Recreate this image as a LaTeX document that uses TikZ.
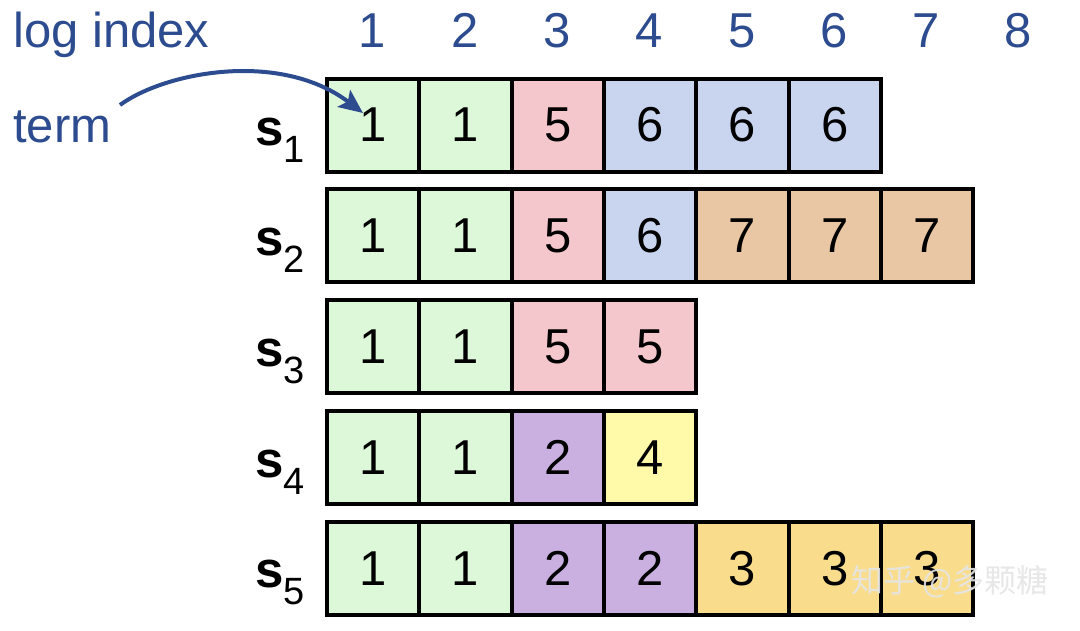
\documentclass[tikz,border=0pt]{standalone}
\usepackage{fontspec}
\setmainfont{Liberation Sans}
\newfontfamily\cjk{Noto Sans CJK SC}
\usetikzlibrary{arrows.meta}
\definecolor{hdrblue}{RGB}{45,76,143}
\definecolor{cgreen}{RGB}{221,248,216}
\definecolor{cpink}{RGB}{244,199,204}
\definecolor{cblue}{RGB}{201,212,239}
\definecolor{ctan}{RGB}{234,199,164}
\definecolor{cpurple}{RGB}{202,176,224}
\definecolor{cyellow}{RGB}{255,250,170}
\definecolor{cgold}{RGB}{249,221,140}
\begin{document}
\begin{tikzpicture}[x=1pt,y=-1pt,
  cell/.style={draw=black, line width=4pt, minimum width=92.3pt, minimum height=93pt, inner sep=0pt, font=\fontsize{49}{49}\selectfont},
  hdr/.style={text=hdrblue, font=\fontsize{49}{49}\selectfont, inner sep=0pt, anchor=base},
  slabel/.style={anchor=base west, inner sep=0pt, font=\fontsize{51}{51}\selectfont\bfseries},
  arr/.style={draw=hdrblue, line width=4pt, -{Stealth[length=24pt,width=21pt,inset=5pt]}},
  wmark/.style={font=\cjk\fontsize{32}{32}\selectfont, inner sep=0pt}
]
\useasboundingbox (0,0) rectangle (1080,630);
\fill[white] (0,0) rectangle (1080,630);

% header
\node[hdr, anchor=base west] (logidx) at (13,47) {log index};
\node[hdr, anchor=base west] (term) at (13,142) {term};
\foreach \i in {1,...,8}
  \node[hdr] (h\i) at ({372.5+92.3*(\i-1)},47) {\i};

% rows
\foreach \v/\c [count=\i] in {1/cgreen,1/cgreen,5/cpink,6/cblue,6/cblue,6/cblue}
  \node[cell,fill=\c] (r1c\i) at ({373.15+92.3*(\i-1)},125) {\v};
\foreach \v/\c [count=\i] in {1/cgreen,1/cgreen,5/cpink,6/cblue,7/ctan,7/ctan,7/ctan}
  \node[cell,fill=\c] (r2c\i) at ({373.15+92.3*(\i-1)},235.8) {\v};
\foreach \v/\c [count=\i] in {1/cgreen,1/cgreen,5/cpink,5/cpink}
  \node[cell,fill=\c] (r3c\i) at ({373.15+92.3*(\i-1)},346.6) {\v};
\foreach \v/\c [count=\i] in {1/cgreen,1/cgreen,2/cpurple,4/cyellow}
  \node[cell,fill=\c] (r4c\i) at ({373.15+92.3*(\i-1)},457.4) {\v};
\foreach \v/\c [count=\i] in {1/cgreen,1/cgreen,2/cpurple,2/cpurple,3/cgold,3/cgold,3/cgold}
  \node[cell,fill=\c] (r5c\i) at ({373.15+92.3*(\i-1)},568.2) {\v};

% server labels
\foreach \r/\y in {1/145,2/255.8,3/366.6,4/477.4,5/587}
  \node[slabel] (s\r) at (255,\y) {s\raisebox{-17pt}{\fontsize{38}{38}\selectfont\mdseries \r}};

% arrow
\coordinate (astart) at (120,105);
\coordinate (atip) at (363,113);
\draw[arr] (astart) .. controls (165,72) and (280,50) .. (atip);

% watermark
\node[wmark, text=white!80!gray, opacity=0.9] (wm) at (950,582) {知乎 @多颗糖};
\end{tikzpicture}
\end{document}
